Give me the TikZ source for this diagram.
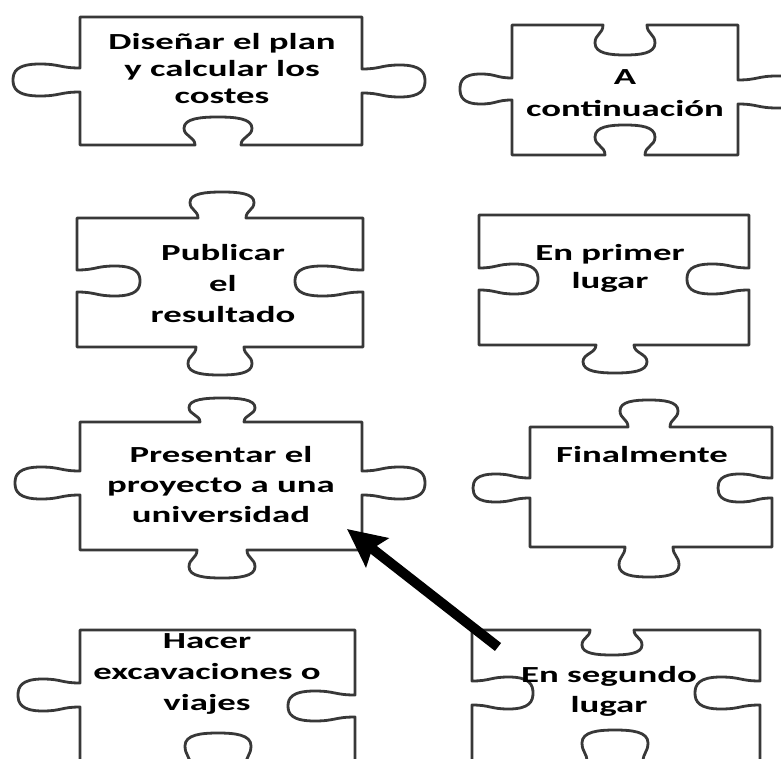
\documentclass[tikz,border=0pt]{standalone}
\usepackage{fontspec}
\setmainfont{Carlito}[FakeStretch=1.6]
\usetikzlibrary{arrows.meta}
% horizontal-side tab: #1 cx, #2 y, #3 signed depth (down +), #4 neck half width (signed), #5 bulb half width (signed)
\newcommand\hTab[5]{-- ({#1-(#4)},{#2}) .. controls ({#1-(#4)},{#2+0.3*(#3)}) and ({#1-(#5)},{#2+0.3*(#3)}) .. ({#1-(#5)},{#2+0.6*(#3)}) .. controls ({#1-(#5)},{#2+0.95*(#3)}) and ({#1-0.5*(#5)},{#2+(#3)}) .. ({#1},{#2+(#3)}) .. controls ({#1+0.5*(#5)},{#2+(#3)}) and ({#1+(#5)},{#2+0.95*(#3)}) .. ({#1+(#5)},{#2+0.6*(#3)}) .. controls ({#1+(#5)},{#2+0.3*(#3)}) and ({#1+(#4)},{#2+0.3*(#3)}) .. ({#1+(#4)},{#2})}
% vertical-side tab: #1 x, #2 cy, #3 signed depth (right +), #4 neck half width (signed), #5 bulb half width (signed)
\newcommand\vTab[5]{-- ({#1},{#2-(#4)}) .. controls ({#1+0.3*(#3)},{#2-(#4)}) and ({#1+0.3*(#3)},{#2-(#5)}) .. ({#1+0.6*(#3)},{#2-(#5)}) .. controls ({#1+0.95*(#3)},{#2-(#5)}) and ({#1+(#3)},{#2-0.5*(#5)}) .. ({#1+(#3)},{#2}) .. controls ({#1+(#3)},{#2+0.5*(#5)}) and ({#1+0.95*(#3)},{#2+(#5)}) .. ({#1+0.6*(#3)},{#2+(#5)}) .. controls ({#1+0.3*(#3)},{#2+(#5)}) and ({#1+0.3*(#3)},{#2+(#4)}) .. ({#1},{#2+(#4)})}
\begin{document}
\begin{tikzpicture}[x=1pt,y=-1pt,
  pz/.style={draw=black!78,line width=2.8pt,line join=round},
  txt/.style={font=\bfseries\fontsize{23}{#1}\selectfont,align=center,inner sep=0pt,anchor=base},
  txt/.default=30,
  bigarrow/.style={line width=10pt,-{Stealth[length=38pt,width=36pt,inset=6pt]}}]
\useasboundingbox (0,0) rectangle (781,759);
\clip (0,0) rectangle (781,759);
\fill[white] (0,0) rectangle (781,759);
% piece 1
\draw[pz] (80,17) -- (362,17) \vTab{362}{81}{63}{12}{16} -- (362,145) \hTab{218}{145}{-28}{-23}{-34} -- (80,145) \vTab{80}{80}{-67}{-12}{-16} -- cycle;
% piece 2
\draw[pz] (512,25) \hTab{625}{25}{30}{22}{30} -- (738,25) \vTab{738}{92}{65}{12}{16} -- (738,155) \hTab{625}{155}{-30}{-20}{-30} -- (512,155) \vTab{512}{89}{-52}{-11}{-15} -- cycle;
% piece 3
\draw[pz] (77,218) \hTab{222}{218}{-26}{24}{32} -- (363,218) \vTab{363}{281}{-68}{11}{15} -- (363,347) \hTab{220}{347}{28}{-24}{-32} -- (77,347) \vTab{77}{281}{63}{-11}{-15} -- cycle;
% piece 4
\draw[pz] (479,215) -- (749,215) \vTab{749}{279}{-62}{11}{15} -- (749,345) \hTab{615}{345}{28}{-19}{-32} -- (479,345) \vTab{479}{279}{59}{-11}{-15} -- cycle;
% piece 5
\draw[pz] (80,422) \hTab{222}{422}{-24}{22}{33} -- (362,422) \vTab{362}{483}{63}{12}{16} -- (362,550) \hTab{222}{550}{28}{-25}{-33} -- (80,550) \vTab{80}{483}{-65}{-12}{-16} -- cycle;
% piece 6
\draw[pz] (530,427) \hTab{649}{427}{-27}{21}{29} -- (772,427) \vTab{772}{488}{-54}{10}{14} -- (772,547) \hTab{649}{547}{30}{-24}{-30} -- (530,547) \vTab{530}{488}{-57}{-10}{-14} -- cycle;
% piece 7
\draw[pz] (80,630) -- (355,630) \vTab{355}{706}{-67}{11}{15} -- (355,765) \hTab{218}{765}{-32}{-28}{-33} -- (80,765) \vTab{80}{695}{-62}{-12}{-16} -- cycle;
% piece 8
\draw[pz] (472,630) \hTab{612}{630}{25}{22}{30} -- (760,630) \vTab{760}{693}{-65}{12}{16} -- (760,762) \hTab{615}{762}{-32}{-28}{-33} -- (472,762) \vTab{472}{693}{61}{-12}{-16} -- cycle;
% texts (anchor base = last line)
\node[txt=27] (t1) at (222,104) {Diseñar el plan\\y calcular los\\costes};
\node[txt=32] (t2) at (625,117) {A\\continuación};
\node[txt=31] (t3) at (223,322) {Publicar\\el\\resultado};
\node[txt=28] (t4) at (610,288) {En primer\\lugar};
\node[txt=30] (t5) at (221,522) {Presentar el\\proyecto a una\\universidad};
\node[txt] (t6) at (642,462) {Finalmente};
\node[txt=31] (t7) at (207,710) {Hacer\\excavaciones o\\viajes};
\node[txt=30] (t8) at (609,712) {En segundo\\lugar};
% arrow
\coordinate (arrS) at (498,647);
\coordinate (arrE) at (347,529);
\draw[bigarrow] (arrS) -- (arrE);
\end{tikzpicture}
\end{document}
